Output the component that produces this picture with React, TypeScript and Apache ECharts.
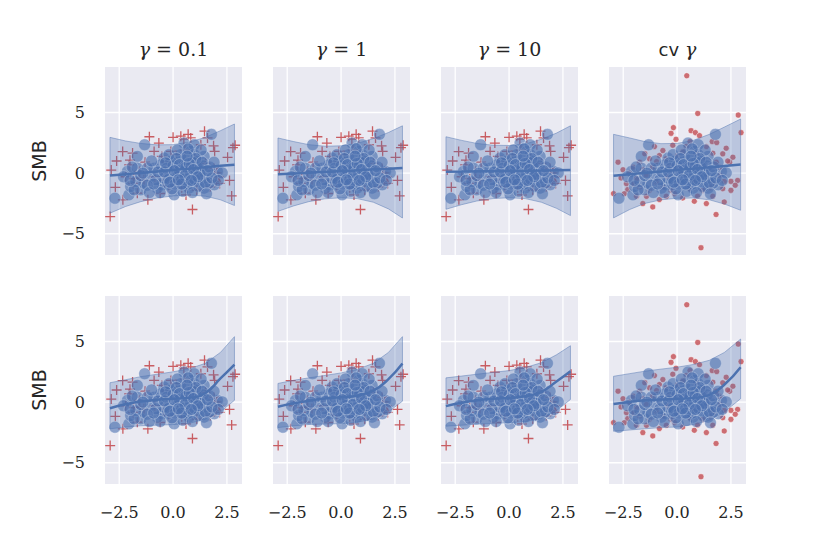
import React, { useEffect, useRef } from "react";
import * as echarts from "echarts";

const COLUMN_TITLES = ["0.1", "1", "10", "cv"];
const X_TICKS = [-2.5, 0, 2.5];
const Y_TICKS = [-5, 0, 5];
const X_RANGE = [-3.16, 3.2];
const Y_RANGE = [-6.75, 8.75];

// blue circles (same data in every panel)
const BLUE_POINTS = [
  [-2.7, -2.07], [-2.05, -1.79], [-1.97, -1.1], [-2.12, 0.14], [-1.66, 1.38], [-1.32, 2.34],
  [-1.5, -1.38], [-1.04, -0.27], [-0.88, 0.41], [-0.5, -0.96], [-0.42, 1.24], [0.05, -1.79],
  [-0.11, -0.14], [0.28, 0.97], [0.51, 2.48], [0.82, 1.79], [0.98, 2.34], [1.13, 0.97],
  [0.67, -0.41], [1.13, -0.69], [1.44, -1.24], [1.6, -0.14], [1.78, 3.2], [1.44, 1.38],
  [1.91, -0.96], [0.74, -1.24], [0.36, -0.96], [-0.26, -0.96], [-0.73, -1.24], [-1.35, -0.83],
  [-1.73, -0.69], [-1.66, 0.41], [-1.19, 0.41], [-0.57, 0.69], [-0.11, 0.97], [0.12, 0.41],
  [0.51, 0.69], [0.82, 0.41], [0.98, -0.14], [0.51, 0.14], [0.2, -0.27], [-0.42, -0.41],
  [-0.8, -0.55], [-0.19, 1.52], [0.36, 1.52], [0.98, 1.52], [1.21, 0.14], [1.44, -0.41],
  [1.67, -0.83], [2.06, 0.14], [2.28, 0.02], [-1.81, -1.38], [-2.3, -0.3], [-2.0, -0.6],
  [-1.9, 0.5], [-1.5, -0.2], [-1.2, -1.0], [-1.0, 1.0], [-0.7, 0.1], [-0.6, -1.6],
  [-0.3, 0.4], [-0.2, -0.5], [0.0, 0.6], [0.1, -0.9], [0.3, 0.2], [0.4, -0.5],
  [0.6, 1.1], [0.7, -0.9], [0.8, 0.0], [0.9, 0.9], [1.0, -0.5], [1.1, 0.5],
  [1.2, -1.1], [1.3, 1.9], [1.4, 0.6], [1.5, -0.8], [1.7, 0.5], [1.8, -0.4],
  [1.9, 0.9], [2.1, -0.6], [0.2, 1.9], [0.7, 2.0], [0.45, -1.5], [-0.05, -1.3],
  [-1.1, -1.6], [1.55, -1.7], [0.9, -1.6], [1.25, -0.1], [0.6, 0.5], [-0.4, 0.1],
  [0.15, 1.2], [1.05, 1.2], [0.3, 0.7], [0.55, -0.2], [0.75, 0.8], [0.95, 0.3],
  [1.15, -0.3], [0.4, -0.9], [0.05, 0.2], [-0.15, -0.75], [0.65, 1.4], [1.35, 0.9],
  [1.6, 0.2], [0.85, -0.6], [0.25, -0.55], [-0.35, 0.85], [-0.9, -0.9], [-1.4, 0.0],
];

// red "+" markers (gamma = 0.1, 1, 10 panels)
const RED_CROSS_POINTS = [
  [-2.92, -3.58], [-2.87, 0.25], [-2.62, 1.0], [-2.68, -1.17], [-2.34, 1.78], [-2.33, -2.2],
  [-2.04, 0.68], [-2.0, 1.07], [-1.88, 1.65], [-1.85, -0.85], [-1.82, -0.45], [-1.66, -1.65],
  [-1.57, 0.14], [-1.55, -0.39], [-1.35, -0.55], [-1.17, -2.2], [-1.1, 3.0], [-0.88, 1.79],
  [-0.66, 2.48], [-0.6, -1.68], [-0.52, 1.38], [-0.3, 0.9], [-0.1, 1.79], [0.0, 2.95],
  [0.2, -0.7], [0.36, 3.05], [0.5, 2.8], [0.6, -1.8], [0.7, 3.2], [0.82, 2.9],
  [0.9, -3.0], [1.0, 1.2], [1.29, 2.34], [1.46, 3.46], [1.6, 2.9], [1.72, -1.13],
  [1.88, 2.25], [1.91, 0.41], [1.93, 1.79], [2.0, -0.66], [2.02, 0.02], [2.12, -0.3],
  [2.16, -0.85], [2.53, 1.3], [2.62, -0.6], [2.72, -1.88], [2.78, 2.1], [2.88, 2.3],
  [-0.85, -0.3], [0.4, -1.2], [1.3, -0.4], [-1.3, 0.9], [-2.2, -0.3], [1.5, 0.8],
  [0.75, 0.4], [-0.2, -1.1], [0.15, 1.5], [1.1, -1.4], [-0.45, -0.6], [0.55, 1.9],
];

// red dots (cv gamma panels)
const RED_DOT_POINTS = [
  [0.45, 8.03], [0.96, 4.92], [2.84, 4.79], [2.97, 3.34], [-0.17, 3.75], [-0.28, 3.28],
  [0.65, 3.5], [0.85, 3.34], [1.04, 3.09], [1.63, 2.6], [1.84, 2.52], [-0.05, 2.79],
  [2.28, 2.05], [2.12, 1.59], [2.59, 1.31], [2.44, 0.9], [2.81, -0.6], [2.5, -1.42],
  [2.19, -2.38], [1.81, -3.41], [1.11, -6.15], [-1.13, -2.79], [-0.82, -2.18], [-1.59, -2.51],
  [-2.95, -1.69], [-2.74, 0.9], [-2.51, 0.28], [-2.35, -0.87], [-1.88, -1.91], [0.8, -2.32],
  [1.36, -2.51], [0.26, -2.05], [1.66, -1.91], [2.19, -0.68], [2.5, -0.68], [2.12, -1.28],
  [-1.05, 2.19], [-0.66, 1.86], [-0.51, 1.18], [-0.82, 1.45], [-1.28, 1.18], [-1.74, 0.9],
  [-2.05, 0.49], [-2.21, 0.0], [-2.29, -1.36], [-1.74, -1.15], [-1.42, -1.91], [-0.5, -1.91],
  [-0.12, -1.69], [0.42, 2.19], [0.26, 1.78], [1.36, 2.19], [1.66, 1.64], [1.82, 0.9],
  [1.97, 0.49], [1.66, -0.87], [1.19, -1.42], [0.57, -1.28], [0.03, -0.87], [-0.43, -0.33],
  [-0.97, -0.74], [-1.42, -0.19], [-1.88, -0.46], [0.03, 1.45], [0.88, 1.59], [0.57, 0.77],
  [-0.35, 0.63], [-1.13, 0.49], [1.19, 0.49], [1.36, -0.33], [0.8, -0.6], [0.26, -0.05],
  [-0.66, -1.15], [-1.28, -1.42], [-2.6, -0.4], [-2.45, -1.7], [-1.6, 0.3], [-2.0, -0.9],
  [-0.95, 0.95], [-0.2, 2.3], [0.6, 2.6], [1.2, 1.1], [2.0, -0.2], [1.55, -1.2],
  [0.95, -1.9], [-0.3, -1.4], [2.35, 1.0], [2.7, -1.0], [-1.5, 1.6],
];

// sample positions of the fitted curves and bands
const BAND_X_GAMMA = [-2.93, -2.2, -1.5, -0.75, 0, 0.75, 1.5, 2.2, 2.85];
const BAND_X_CV = [-2.95, -2.2, -1.5, -0.75, 0, 0.75, 1.5, 2.2, 2.95];

// top row (linear fit)
const TOP_FIT_G01 = [-0.2, -0.09, 0.02, 0.14, 0.26, 0.37, 0.49, 0.6, 0.7];
const TOP_UPPER_G01 = [2.95, 2.65, 2.45, 2.33, 2.35, 2.55, 2.95, 3.5, 4.05];
const TOP_LOWER_G01 = [-3.3, -2.75, -2.35, -2.05, -1.88, -1.8, -1.9, -2.2, -2.67];

const TOP_FIT_G1 = [-0.1, -0.03, 0.03, 0.1, 0.17, 0.24, 0.31, 0.37, 0.43];
const TOP_UPPER_G1 = [2.9, 2.6, 2.35, 2.22, 2.25, 2.45, 2.85, 3.35, 3.9];
const TOP_LOWER_G1 = [-3.15, -2.7, -2.35, -2.12, -2.03, -2.1, -2.4, -2.95, -3.7];

const TOP_FIT_G10 = [0.12, 0.13, 0.15, 0.16, 0.18, 0.2, 0.21, 0.23, 0.25];
const TOP_UPPER_G10 = [3.0, 2.7, 2.45, 2.3, 2.28, 2.4, 2.8, 3.3, 3.9];
const TOP_LOWER_G10 = [-2.98, -2.6, -2.3, -2.1, -2.03, -2.1, -2.4, -2.9, -3.5];

const TOP_FIT_CV = [-0.21, -0.1, 0.02, 0.13, 0.25, 0.37, 0.48, 0.59, 0.71];
const TOP_UPPER_CV = [3.2, 2.9, 2.6, 2.43, 2.45, 2.7, 3.2, 3.8, 4.46];
const TOP_LOWER_CV = [-3.69, -3.0, -2.5, -2.2, -2.07, -2.05, -2.2, -2.55, -3.06];

// bottom row (polynomial fit)
const BOT_FIT_G01 = [-0.5, -0.18, 0.05, 0.2, 0.28, 0.36, 0.75, 1.95, 3.1];
const BOT_UPPER_G01 = [1.6, 1.85, 2.1, 2.3, 2.5, 2.75, 3.2, 4.1, 5.4];
const BOT_LOWER_G01 = [-2.2, -2.05, -1.95, -1.9, -1.85, -1.75, -1.4, -0.8, 0.15];

const BOT_FIT_G1 = [-0.38, -0.1, 0.12, 0.3, 0.4, 0.55, 0.95, 1.9, 3.18];
const BOT_UPPER_G1 = [1.54, 1.8, 2.0, 2.2, 2.41, 2.7, 3.2, 4.1, 5.4];
const BOT_LOWER_G1 = [-2.1, -1.95, -1.85, -1.8, -1.78, -1.65, -1.4, -0.8, 0.08];

const BOT_FIT_G10 = [-0.33, -0.05, 0.15, 0.28, 0.35, 0.48, 0.85, 1.7, 2.55];
const BOT_UPPER_G10 = [2.0, 2.15, 2.3, 2.45, 2.6, 2.85, 3.25, 3.9, 4.65];
const BOT_LOWER_G10 = [-1.98, -1.9, -1.82, -1.75, -1.7, -1.6, -1.35, -0.7, 0.22];

const BOT_FIT_CV = [-0.15, 0.02, 0.15, 0.22, 0.27, 0.35, 0.6, 1.45, 2.88];
const BOT_UPPER_CV = [2.13, 2.35, 2.55, 2.72, 2.88, 3.1, 3.45, 4.1, 5.2];
const BOT_LOWER_CV = [-2.4, -2.3, -2.2, -2.1, -2.05, -1.85, -1.5, -0.8, 0.28];

const PANELS = [
  { bx: BAND_X_GAMMA, fit: TOP_FIT_G01, up: TOP_UPPER_G01, lo: TOP_LOWER_G01 },
  { bx: BAND_X_GAMMA, fit: TOP_FIT_G1, up: TOP_UPPER_G1, lo: TOP_LOWER_G1 },
  { bx: BAND_X_GAMMA, fit: TOP_FIT_G10, up: TOP_UPPER_G10, lo: TOP_LOWER_G10 },
  { bx: BAND_X_CV, fit: TOP_FIT_CV, up: TOP_UPPER_CV, lo: TOP_LOWER_CV },
  { bx: BAND_X_GAMMA, fit: BOT_FIT_G01, up: BOT_UPPER_G01, lo: BOT_LOWER_G01 },
  { bx: BAND_X_GAMMA, fit: BOT_FIT_G1, up: BOT_UPPER_G1, lo: BOT_LOWER_G1 },
  { bx: BAND_X_GAMMA, fit: BOT_FIT_G10, up: BOT_UPPER_G10, lo: BOT_LOWER_G10 },
  { bx: BAND_X_CV, fit: BOT_FIT_CV, up: BOT_UPPER_CV, lo: BOT_LOWER_CV },
];

const BLUE = "#4C72B0";
const RED = "#C44E52";
const TEXT = "#262626";
const PLUS_PATH = "path://M4.35,0H5.65V4.35H10V5.65H5.65V10H4.35V5.65H0V4.35H4.35Z";

const minus = (s: string) => s.replace("-", "\u2212");

export default function App() {
  const ref = useRef<HTMLDivElement>(null);

  useEffect(() => {
    if (!ref.current) return;
    const chart = echarts.init(ref.current, null, { renderer: "svg" });

    const PANEL_LEFT = [105, 273, 441, 609];
    const PANEL_TOP = [67, 296];
    const PW = 137;
    const PH = 188;

    const grids: any[] = [];
    const xAxes: any[] = [];
    const yAxes: any[] = [];
    const series: any[] = [];

    for (let r = 0; r < 2; r++) {
      for (let c = 0; c < 4; c++) {
        const g = r * 4 + c;
        const panel = PANELS[g];
        grids.push({
          left: PANEL_LEFT[c],
          top: PANEL_TOP[r],
          width: PW,
          height: PH,
          show: true,
          backgroundColor: "#EAEAF2",
          borderWidth: 0,
          containLabel: false,
        });
        xAxes.push({
          type: "value",
          gridIndex: g,
          min: X_RANGE[0],
          max: X_RANGE[1],
          axisLine: { show: false },
          axisTick: { show: false },
          splitLine: { show: false },
          axisLabel: {
            show: r === 1,
            customValues: X_TICKS,
            formatter: (v: number) => minus(v.toFixed(1)),
            fontFamily: "DejaVu Serif",
            fontSize: 16,
            color: TEXT,
            margin: 20,
          },
        });
        yAxes.push({
          type: "value",
          gridIndex: g,
          min: Y_RANGE[0],
          max: Y_RANGE[1],
          axisLine: { show: false },
          axisTick: { show: false },
          splitLine: { show: false },
          axisLabel: {
            show: c === 0,
            customValues: Y_TICKS,
            formatter: (v: number) => minus(String(v)),
            fontFamily: "DejaVu Serif",
            fontSize: 16,
            color: TEXT,
            margin: 20,
          },
          name: c === 0 ? "SMB" : "",
          nameLocation: "middle",
          nameRotate: 90,
          nameGap: 57,
          nameTextStyle: { fontFamily: "DejaVu Sans", fontSize: 19, color: TEXT },
        });

        // grid lines
        series.push({
          type: "custom",
          xAxisIndex: g,
          yAxisIndex: g,
          z: 1,
          silent: true,
          data: [[0, 0]],
          renderItem: (_p: any, api: any) => {
            const children: any[] = [];
            X_TICKS.forEach((t) => {
              const a = api.coord([t, Y_RANGE[0]]);
              const b = api.coord([t, Y_RANGE[1]]);
              children.push({
                type: "line",
                shape: { x1: a[0], y1: a[1], x2: b[0], y2: b[1] },
                style: { stroke: "#ffffff", lineWidth: 1.3 },
              });
            });
            Y_TICKS.forEach((t) => {
              const a = api.coord([X_RANGE[0], t]);
              const b = api.coord([X_RANGE[1], t]);
              children.push({
                type: "line",
                shape: { x1: a[0], y1: a[1], x2: b[0], y2: b[1] },
                style: { stroke: "#ffffff", lineWidth: 1.3 },
              });
            });
            return { type: "group", children };
          },
        });

        // red markers
        if (c < 3) {
          series.push({
            type: "scatter",
            xAxisIndex: g,
            yAxisIndex: g,
            z: 2,
            symbol: PLUS_PATH,
            symbolSize: 10,
            data: RED_CROSS_POINTS,
            itemStyle: { color: RED, opacity: 0.9 },
          });
        } else {
          series.push({
            type: "scatter",
            xAxisIndex: g,
            yAxisIndex: g,
            z: 2,
            symbol: "circle",
            symbolSize: 6,
            data: RED_DOT_POINTS,
            itemStyle: { color: RED, borderColor: "#ffffff", borderWidth: 0.6 },
          });
        }

        // blue circles
        series.push({
          type: "scatter",
          xAxisIndex: g,
          yAxisIndex: g,
          z: 3,
          symbol: "circle",
          symbolSize: 12,
          data: BLUE_POINTS,
          itemStyle: { color: BLUE, opacity: 0.6, borderColor: "#ffffff", borderWidth: 0.8 },
        });

        // band
        series.push({
          type: "custom",
          xAxisIndex: g,
          yAxisIndex: g,
          z: 4,
          silent: true,
          data: [[0, 0]],
          renderItem: (_p: any, api: any) => {
            const pts: number[][] = [];
            for (let i = 0; i < panel.bx.length; i++) pts.push(api.coord([panel.bx[i], panel.up[i]]));
            for (let i = panel.bx.length - 1; i >= 0; i--) pts.push(api.coord([panel.bx[i], panel.lo[i]]));
            return {
              type: "polygon",
              shape: { points: pts },
              style: { fill: "rgba(76,114,176,0.30)", stroke: "rgba(76,114,176,0.45)", lineWidth: 1 },
            };
          },
        });

        // fitted line
        series.push({
          type: "line",
          xAxisIndex: g,
          yAxisIndex: g,
          z: 5,
          smooth: true,
          showSymbol: false,
          symbol: "none",
          data: panel.bx.map((x, i) => [x, panel.fit[i]]),
          lineStyle: { color: BLUE, width: 2.5 },
        });
      }
    }

    const titles = COLUMN_TITLES.map((t, c) => ({
      text: t === "cv" ? "{s|cv}{g| γ}" : `{g|γ}{n| = ${t}}`,
      left: PANEL_LEFT[c] + PW / 2,
      top: 36,
      textAlign: "center",
      padding: 0,
      textStyle: {
        fontWeight: "normal",
        rich: {
          g: { fontFamily: "DejaVu Serif", fontStyle: "italic", fontWeight: "normal", fontSize: 19, color: TEXT, lineHeight: 26 },
          n: { fontFamily: "DejaVu Serif", fontWeight: "normal", fontSize: 19, color: TEXT, lineHeight: 26 },
          s: { fontFamily: "DejaVu Sans", fontWeight: "normal", fontSize: 18, color: TEXT, lineHeight: 26 },
        },
      },
    }));

    chart.setOption({
      animation: false,
      backgroundColor: "#ffffff",
      title: titles,
      grid: grids,
      xAxis: xAxes,
      yAxis: yAxes,
      series,
    });

    return () => chart.dispose();
  }, []);

  return (
    <div
      ref={ref}
      style={{ position: "fixed", left: 0, top: 0, width: 830, height: 554 }}
    />
  );
}
